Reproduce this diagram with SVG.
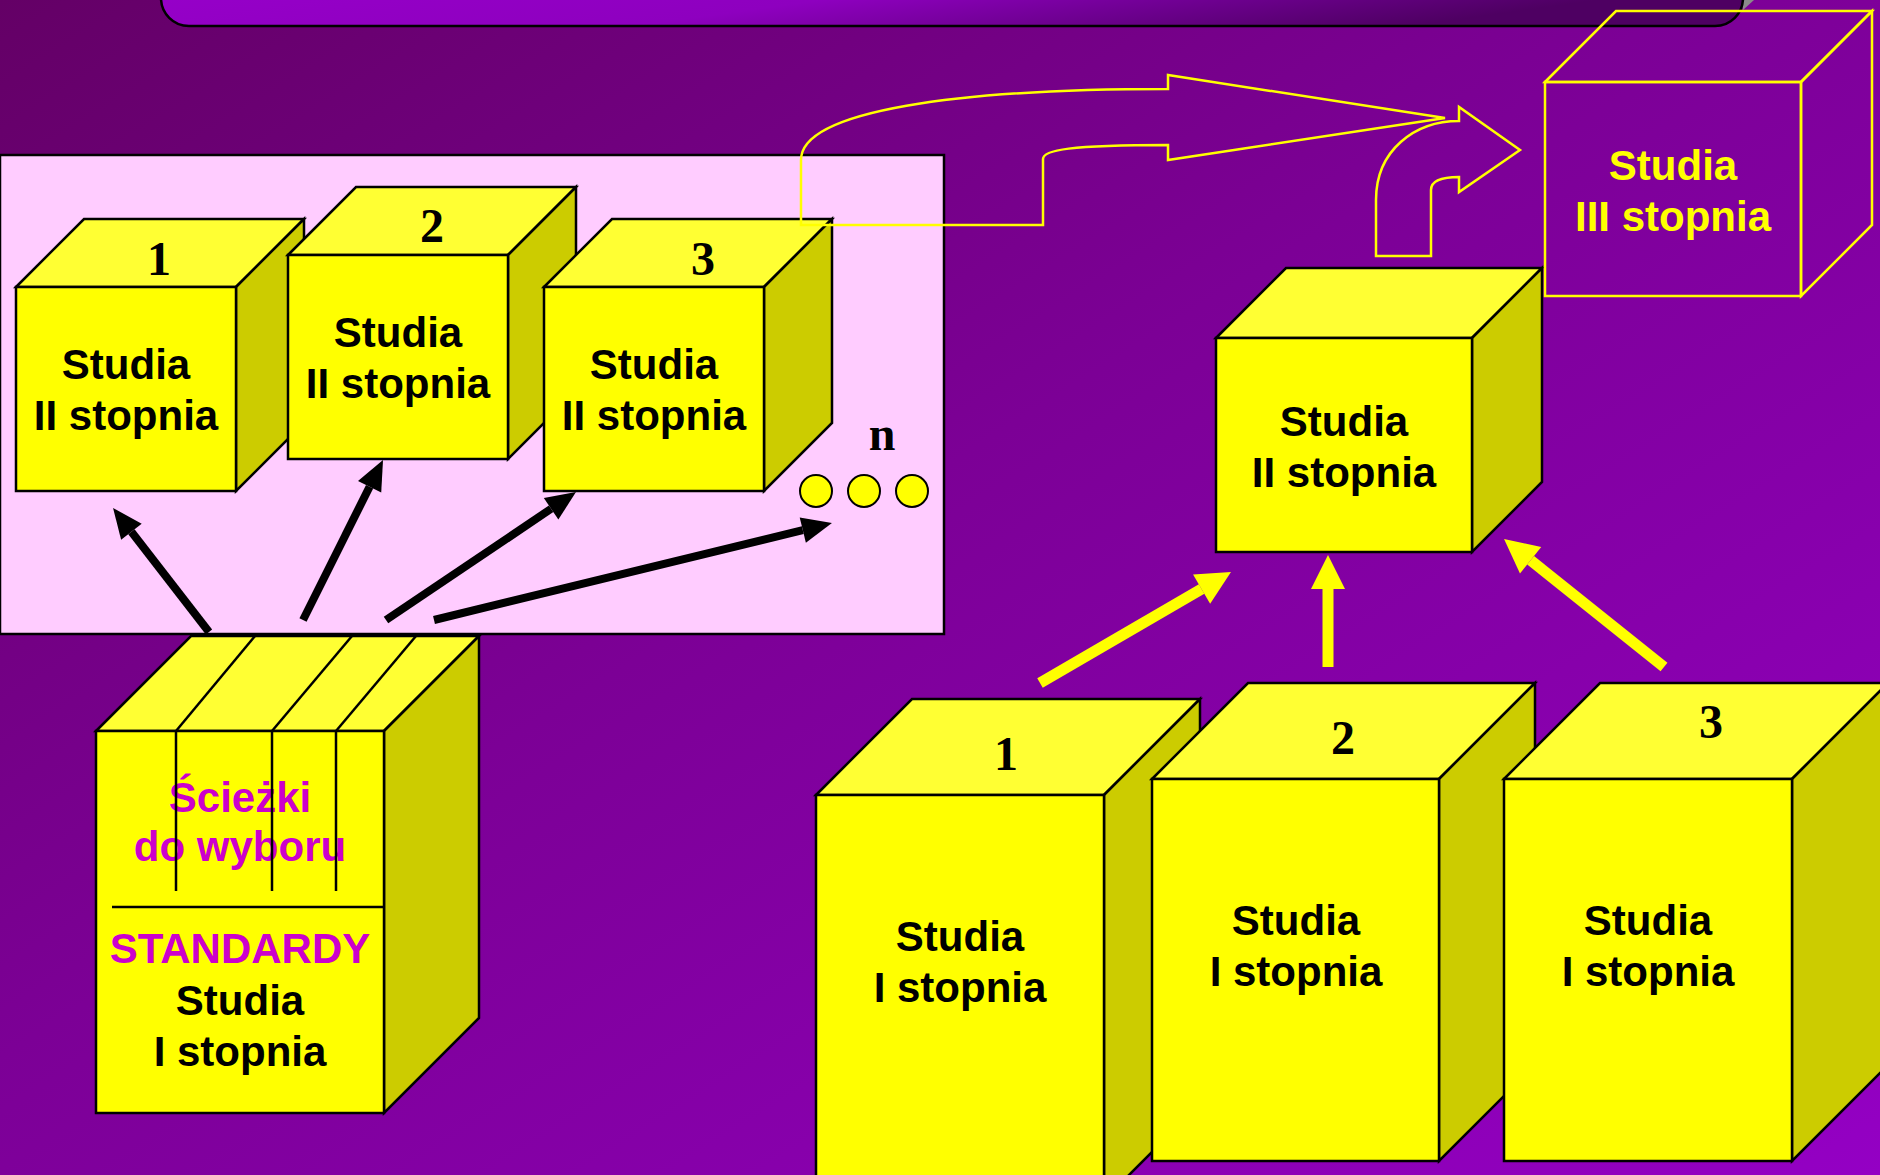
<svg xmlns="http://www.w3.org/2000/svg" width="1880" height="1175" viewBox="0 0 1880 1175">
<defs>
<linearGradient id="bg" x1="0" y1="0" x2="1" y2="1">
<stop offset="0" stop-color="#640066"/>
<stop offset="0.45" stop-color="#7c0096"/>
<stop offset="1" stop-color="#9400c4"/>
</linearGradient>
<linearGradient id="ban" x1="0" y1="0" x2="1" y2="0.3">
<stop offset="0" stop-color="#9900cc"/>
<stop offset="0.55" stop-color="#8e00bf"/>
<stop offset="1" stop-color="#4e0062"/>
</linearGradient>
<marker id="bk" markerUnits="userSpaceOnUse" markerWidth="40" markerHeight="40" refX="0" refY="13" orient="auto" overflow="visible">
<path d="M0,0 L30,13 L0,26 Z" fill="#000"/>
</marker>
<marker id="yw" markerUnits="userSpaceOnUse" markerWidth="40" markerHeight="40" refX="0" refY="17" orient="auto" overflow="visible">
<path d="M0,0 L34,17 L0,34 Z" fill="#ffff00"/>
</marker>
<style>
.front{fill:#ffff00;stroke:#000;stroke-width:2.5;stroke-linejoin:miter}
.top{fill:#ffff33;stroke:#000;stroke-width:2.5}
.side{fill:#cccc00;stroke:#000;stroke-width:2.5}
.lbl{font-family:"Liberation Sans",Arial,sans-serif;font-weight:bold;font-size:42px;text-anchor:middle;fill:#000}
.num{font-family:"Liberation Serif","Times New Roman",serif;font-weight:bold;font-size:48px;text-anchor:middle;fill:#000}
.mag{fill:#cc00cc}
.ytxt{fill:#ffff00}
.hollow{fill:none;stroke:#ffff00;stroke-width:2.5;stroke-linejoin:miter}
.blk{stroke:#000;stroke-width:8;fill:none}
.ylw{stroke:#ffff00;stroke-width:11;fill:none}
</style>
</defs>
<rect x="0" y="0" width="1880" height="1175" fill="url(#bg)"/>
<g id="banner">
<polygon points="1742,0 1754,0 1743,10" fill="#8a8a8a"/>
<rect x="161" y="-40" width="1582" height="66" rx="28" ry="28" fill="url(#ban)" stroke="#000" stroke-width="2.5"/>
</g>
<g id="panel">
<rect x="0" y="155" width="944" height="479" fill="#ffccff" stroke="#000" stroke-width="2.5"/>
</g>
<g id="box-ii-1">
<polygon class="top" points="16,287 84,219 304,219 236,287"/>
<polygon class="side" points="236,287 304,219 304,423 236,491"/>
<rect class="front" x="16" y="287" width="220" height="204"/>
<text class="num" x="159" y="275">1</text>
<text class="lbl" x="126" y="379">Studia</text>
<text class="lbl" x="126" y="430">II stopnia</text>
</g>
<g id="box-ii-2">
<polygon class="top" points="288,255 356,187 576,187 508,255"/>
<polygon class="side" points="508,255 576,187 576,391 508,459"/>
<rect class="front" x="288" y="255" width="220" height="204"/>
<text class="num" x="432" y="242">2</text>
<text class="lbl" x="398" y="347">Studia</text>
<text class="lbl" x="398" y="398">II stopnia</text>
</g>
<g id="box-ii-3">
<polygon class="top" points="544,287 612,219 832,219 764,287"/>
<polygon class="side" points="764,287 832,219 832,423 764,491"/>
<rect class="front" x="544" y="287" width="220" height="204"/>
<text class="num" x="703" y="275">3</text>
<text class="lbl" x="654" y="379">Studia</text>
<text class="lbl" x="654" y="430">II stopnia</text>
</g>
<g id="box-ii-n">
<text class="num" x="882" y="450">n</text>
<circle cx="816" cy="491" r="16" fill="#ffff00" stroke="#000" stroke-width="2"/>
<circle cx="864" cy="491" r="16" fill="#ffff00" stroke="#000" stroke-width="2"/>
<circle cx="912" cy="491" r="16" fill="#ffff00" stroke="#000" stroke-width="2"/>
</g>
<g id="box-standardy">
<polygon class="top" points="96,731 191,636 479,636 384,731"/>
<polygon class="side" points="384,731 479,636 479,1018 384,1113"/>
<rect class="front" x="96" y="731" width="288" height="382"/>
<text class="lbl mag" x="240" y="812">Ścieżki</text>
<text class="lbl mag" x="240" y="861">do wyboru</text>
<text class="lbl mag" x="240" y="963">STANDARDY</text>
<text class="lbl" x="240" y="1015">Studia</text>
<text class="lbl" x="240" y="1066">I stopnia</text>
<g stroke="#000" stroke-width="2.5" fill="none">
<line x1="176" y1="731" x2="255" y2="636"/>
<line x1="272" y1="731" x2="352" y2="636"/>
<line x1="336" y1="731" x2="416" y2="636"/>
<line x1="176" y1="731" x2="176" y2="891"/>
<line x1="272" y1="731" x2="272" y2="891"/>
<line x1="336" y1="731" x2="336" y2="891"/>
<line x1="112" y1="907" x2="384" y2="907"/>
</g>
</g>
<g id="box-i-1">
<polygon class="top" points="816,795 912,699 1200,699 1104,795"/>
<polygon class="side" points="1104,795 1200,699 1200,1104 1104,1200"/>
<rect class="front" x="816" y="795" width="288" height="410"/>
<text class="num" x="1006" y="770">1</text>
<text class="lbl" x="960" y="951">Studia</text>
<text class="lbl" x="960" y="1002">I stopnia</text>
</g>
<g id="box-i-2">
<polygon class="top" points="1152,779 1248,683 1535,683 1439,779"/>
<polygon class="side" points="1439,779 1535,683 1535,1065 1439,1161"/>
<rect class="front" x="1152" y="779" width="287" height="382"/>
<text class="num" x="1343" y="754">2</text>
<text class="lbl" x="1296" y="935">Studia</text>
<text class="lbl" x="1296" y="986">I stopnia</text>
</g>
<g id="box-i-3">
<polygon class="top" points="1504,779 1600,683 1888,683 1792,779"/>
<polygon class="side" points="1792,779 1888,683 1888,1065 1792,1161"/>
<rect class="front" x="1504" y="779" width="288" height="382"/>
<text class="num" x="1711" y="738">3</text>
<text class="lbl" x="1648" y="935">Studia</text>
<text class="lbl" x="1648" y="986">I stopnia</text>
</g>
<g id="box-ii-right">
<polygon class="top" points="1216,338 1286,268 1542,268 1472,338"/>
<polygon class="side" points="1472,338 1542,268 1542,482 1472,552"/>
<rect class="front" x="1216" y="338" width="256" height="214"/>
<text class="lbl" x="1344" y="436">Studia</text>
<text class="lbl" x="1344" y="487">II stopnia</text>
</g>
<g id="box-iii">
<polygon points="1545,82 1616,11 1872,11 1801,82" fill="none" stroke="#ffff00" stroke-width="2.5"/>
<polygon points="1801,82 1872,11 1872,225 1801,296" fill="none" stroke="#ffff00" stroke-width="2.5"/>
<rect x="1545" y="82" width="256" height="214" fill="none" stroke="#ffff00" stroke-width="2.5"/>
<text class="lbl ytxt" x="1673" y="180">Studia</text>
<text class="lbl ytxt" x="1673" y="231">III stopnia</text>
</g>
<g id="connectors">
<line class="blk" x1="209" y1="632" x2="131.4" y2="531.7" marker-end="url(#bk)"/>
<line class="blk" x1="303" y1="620" x2="369.6" y2="486.8" marker-end="url(#bk)"/>
<line class="blk" x1="386" y1="620" x2="551.1" y2="508.8" marker-end="url(#bk)"/>
<line class="blk" x1="434" y1="620" x2="802.8" y2="530.1" marker-end="url(#bk)"/>
<line class="ylw" x1="1040" y1="683" x2="1201.6" y2="589.1" marker-end="url(#yw)"/>
<line class="ylw" x1="1328" y1="667" x2="1328" y2="589" marker-end="url(#yw)"/>
<line class="ylw" x1="1664" y1="667" x2="1530.6" y2="560.2" marker-end="url(#yw)"/>
<path class="hollow" d="M801,225 L1043,225 L1043,159 C1043,150 1070,145 1168,145 L1168,160 L1445,118 L1168,75 L1168,89 C960,89 801,110 801,160 Z"/>
<path class="hollow" d="M1376,256 L1431,256 L1431,190 C1431,182 1440,177 1459,177 L1459,192 L1520,150 L1459,107 L1459,121 C1415,121 1376,150 1376,200 Z"/>
</g>
</svg>
